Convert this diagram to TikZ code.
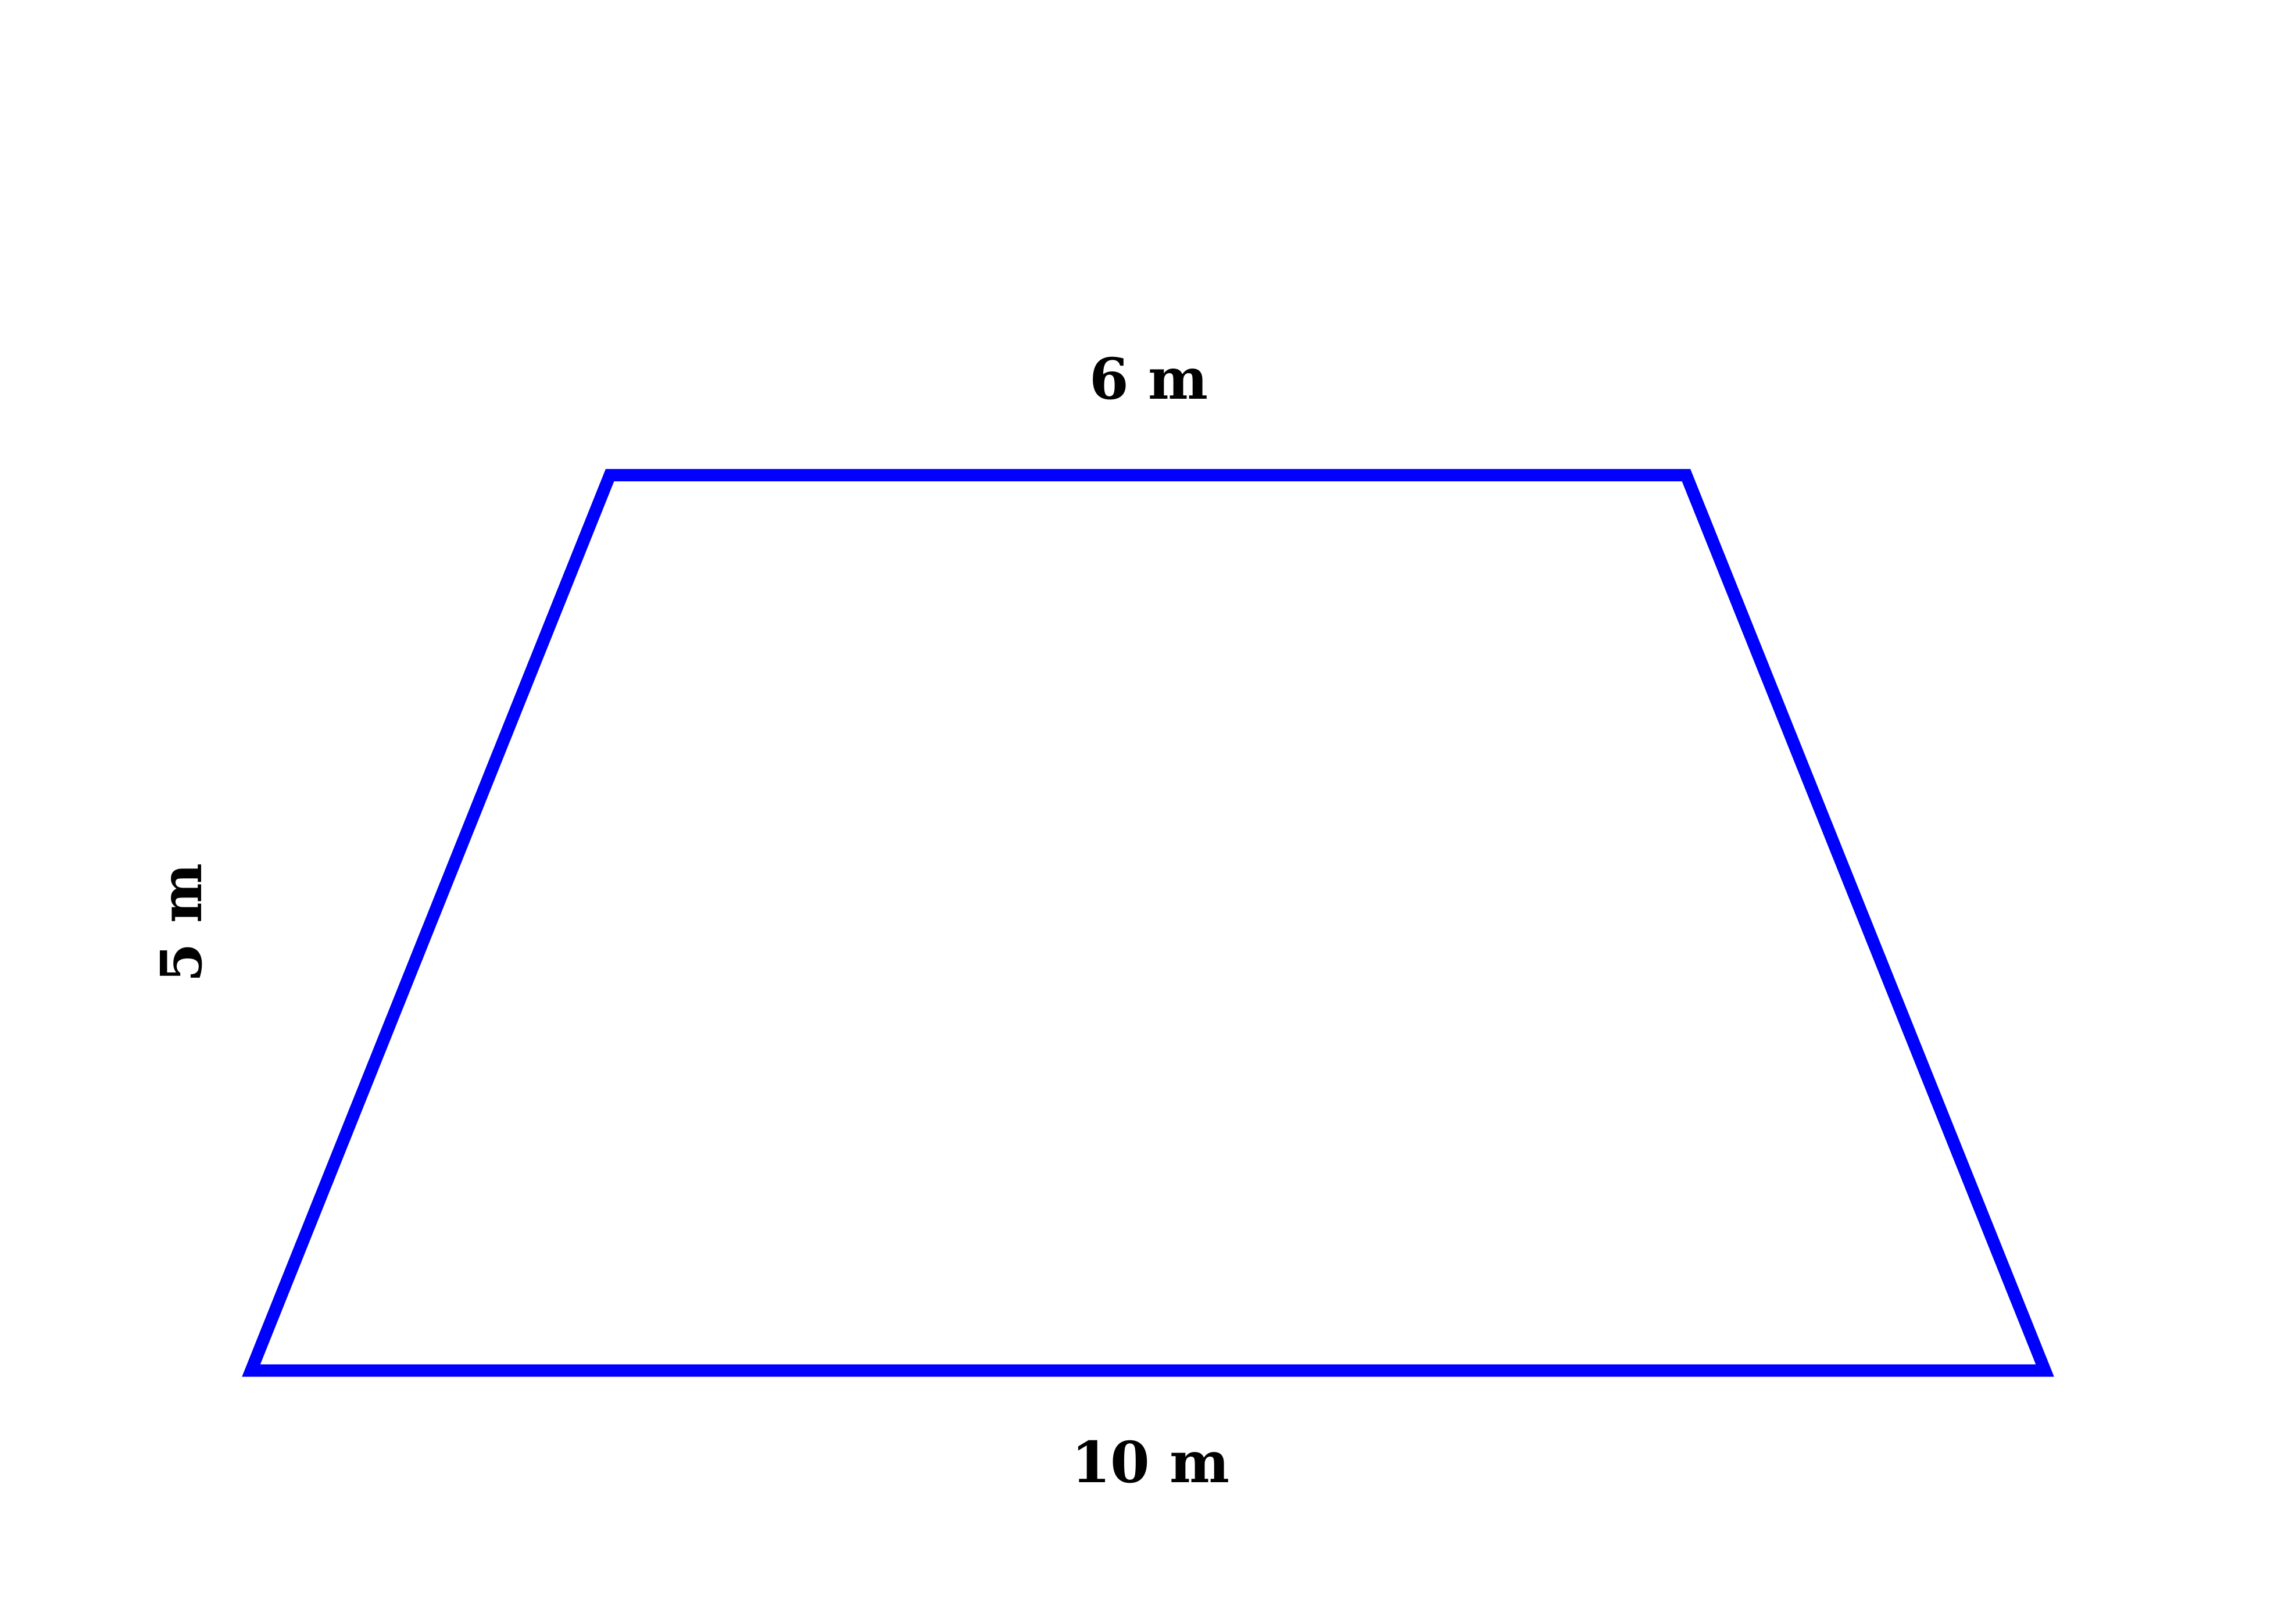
\documentclass[tikz,border=0pt]{standalone}
\usepackage{fontspec}
\setmainfont{DejaVu Serif}
\usepackage{tikz}
\usetikzlibrary{positioning,calc}
\tikzset{
    side/.style={
        draw=blue,
        line width=2.4pt,
        line join=miter
    },
    measure/.style={
        font=\fontsize{11pt}{13pt}\selectfont\bfseries,
        inner sep=0pt,
        anchor=base
    }
}

\begin{document}
\begin{tikzpicture}
        \useasboundingbox (0,0) rectangle (15.68,11.09);
        \coordinate (bl) at (1.715,1.73);
        \coordinate (br) at (13.965,1.73);
        \coordinate (tr) at (11.515,7.845);
        \coordinate (tl) at (4.165,7.845);

        \draw[side] (bl) -- (br) -- (tr) -- (tl) -- cycle;

        \node[measure] (top) at (7.846,8.363) {6 m};
        \node[measure] (bottom) at (7.857,0.967) {10 m};
        \node[measure, rotate=90] (left) at (1.377,4.787) {5 m};
    \end{tikzpicture}
\end{document}
